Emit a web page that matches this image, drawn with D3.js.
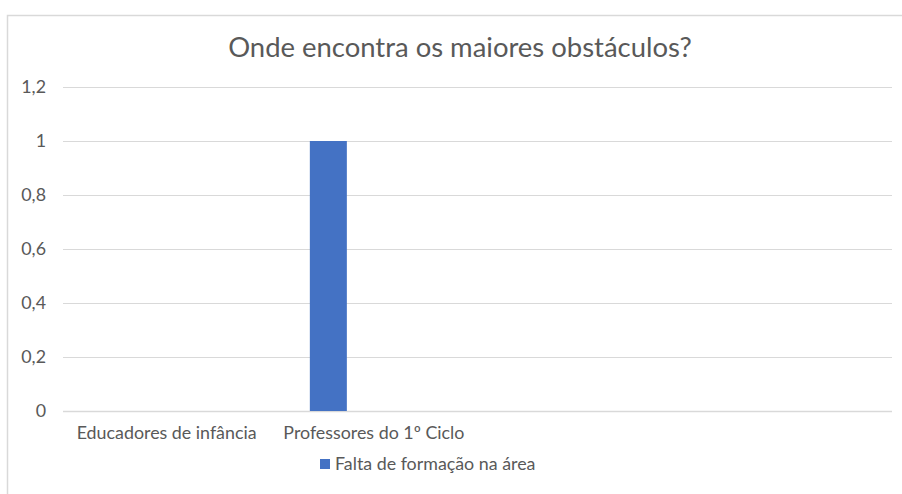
<!DOCTYPE html>
<html><head><meta charset="utf-8">
<script src="https://cdn.jsdelivr.net/npm/d3@7"></script>
<style>
html,body{margin:0;padding:0;background:#fff;}
svg{display:block;font-family:Lato,"Open Sans",sans-serif;}
</style></head>
<body><svg id="c" width="902" height="494"></svg>
<script>
const title = "Onde encontra os maiores obstáculos?";
const categories = ["Educadores de infância", "Professores do 1º Ciclo", "", " "];
const seriesName = "Falta de formação na área";
const seriesValues = [0, 1, 0, 0];
const yTicks = [0, 0.2, 0.4, 0.6, 0.8, 1, 1.2];

const svg = d3.select("#c");
const W = 902, H = 494;
const m = {left: 63, right: 10, top: 87, bottom: 83};

// fit a font size so that a text reaches a target width
function fitSize(txt, target) {
  const t = svg.append("text").attr("font-size", 100).text(txt);
  const w = t.node().getComputedTextLength();
  t.remove();
  return 100 * target / w;
}
const titleSize = fitSize(title, 464);
const labelSize = fitSize(categories[0], 180);

// chart frame
svg.append("rect").attr("x", 7.5).attr("y", 15.5).attr("width", 920).attr("height", 500)
  .attr("fill", "#fff").attr("stroke", "#d9d9d9").attr("stroke-width", 1.5);

const x = d3.scaleBand().domain(categories).range([m.left, W - m.right]).padding(0);
const y = d3.scaleLinear().domain([0, 1.2]).range([H - m.bottom, m.top]);

// gridlines
svg.append("g").selectAll("line").data(yTicks).join("line")
  .attr("x1", m.left).attr("x2", W - m.right)
  .attr("y1", d => Math.round(y(d)) + 0.5).attr("y2", d => Math.round(y(d)) + 0.5)
  .attr("stroke", "#d9d9d9").attr("stroke-width", d => d === 0 ? 1.5 : 1);

// y labels
const fmt = d => d3.format(".1~f")(d).replace(".", ",");
svg.append("g").selectAll("text").data(yTicks).join("text")
  .attr("x", 46).attr("y", d => y(d)).attr("dy", "0.35em")
  .attr("text-anchor", "end").attr("fill", "#595959").attr("font-size", labelSize)
  .text(fmt);

// bars: clustered slot layout inside category
const slots = d3.scaleBand().domain([0, 1, 2]).paddingInner(0.187).paddingOuter(0);
const groupW = x.bandwidth() * 0.618;
svg.append("g").selectAll("rect").data(categories.map((c, i) => ({c, v: seriesValues[i]})))
  .join("rect")
  .attr("x", d => {
    const cx = x(d.c) + x.bandwidth() / 2;
    slots.range([cx - groupW / 2, cx + groupW / 2]);
    return slots(0);
  })
  .attr("width", () => slots.bandwidth())
  .attr("y", d => y(d.v))
  .attr("height", d => y(0) - y(d.v))
  .attr("fill", "#4472c4");

// x labels
svg.append("g").selectAll("text").data(categories).join("text")
  .attr("x", d => x(d) + x.bandwidth() / 2).attr("y", 433).attr("dy", "0.35em")
  .attr("text-anchor", "middle").attr("fill", "#595959").attr("font-size", labelSize)
  .text(d => d.trim());

// title
svg.append("text").attr("x", 460).attr("y", 47).attr("dy", "0.35em").attr("text-anchor", "middle")
  .attr("fill", "#595959").attr("font-size", titleSize).text(title);

// legend
const lg = svg.append("g");
lg.append("rect").attr("x", 320).attr("y", 459).attr("width", 10).attr("height", 10).attr("fill", "#4472c4");
lg.append("text").attr("x", 335).attr("y", 464).attr("dy", "0.35em")
  .attr("fill", "#595959").attr("font-size", labelSize).text(seriesName);
</script></body></html>
